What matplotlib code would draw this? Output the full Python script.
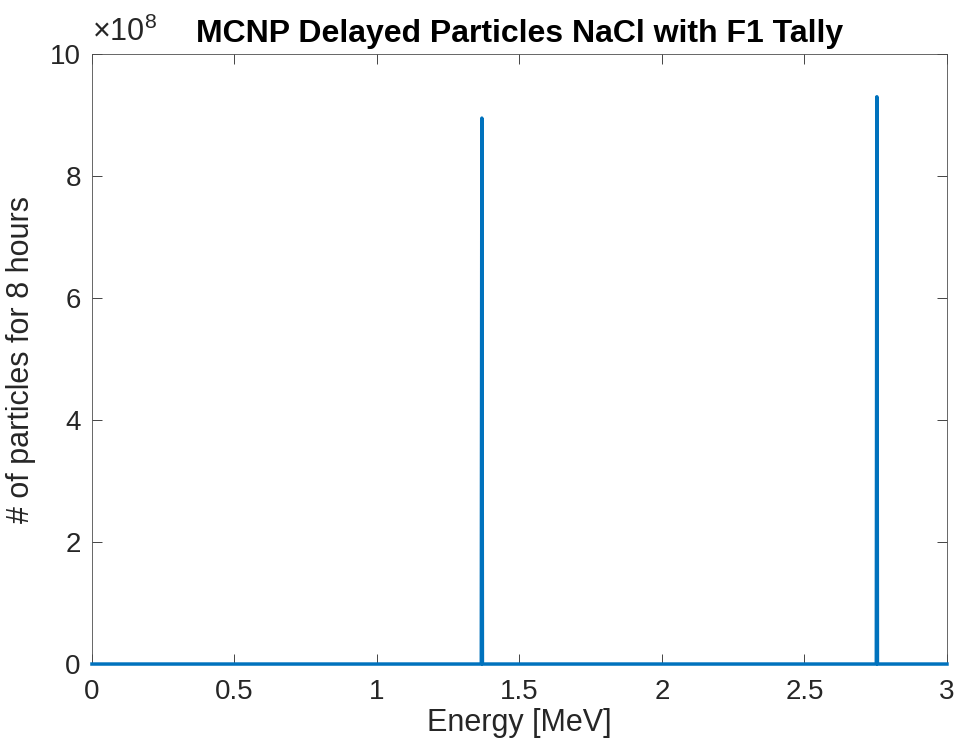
"""MCNP delayed particle spectrum for NaCl (F1 tally) -> out.png."""

import matplotlib.pyplot as plt
from matplotlib.ticker import FuncFormatter

plt.rcParams['font.family'] = ['Liberation Sans', 'DejaVu Sans']
plt.rcParams['mathtext.fontset'] = 'custom'
plt.rcParams['mathtext.rm'] = 'Liberation Sans'

# energy bins [MeV] and tallied counts (two Na-24 lines)
energy = [0.0, 1.366, 1.368, 1.370, 2.752, 2.754, 2.756, 3.0]
counts = [0.0, 0.0, 8.95e8, 0.0, 0.0, 9.3e8, 0.0, 0.0]

x_ticks = [0, 0.5, 1, 1.5, 2, 2.5, 3]
y_ticks = [0, 2e8, 4e8, 6e8, 8e8, 10e8]

LINE = '#0072BD'
AXC = '#262626'


def main():
    fig = plt.figure(figsize=(9.58, 7.51), dpi=100)
    ax = fig.add_axes([0.096, 0.1158, 0.8925, 0.8122])

    ax.plot(energy, counts, color=LINE, linewidth=2.5, clip_on=False, zorder=3)

    ax.set_xlim(0, 3)
    ax.set_ylim(0, 10e8)
    ax.set_xticks(x_ticks)
    ax.set_yticks(y_ticks)
    ax.xaxis.set_major_formatter(FuncFormatter(lambda v, p: f"{v:g}"))
    ax.yaxis.set_major_formatter(FuncFormatter(lambda v, p: f"{v / 1e8:g}"))

    ax.tick_params(direction='in', length=7, width=0.6, colors=AXC,
                   labelsize=20, top=True, right=True)
    ax.tick_params(axis='x', pad=11)
    ax.tick_params(axis='y', pad=8)
    for s in ax.spines.values():
        s.set_color('#4d4d4d')
        s.set_linewidth(0.6)

    ax.text(0.0, 1.010, r'$\times10^{8}$', transform=ax.transAxes,
            fontsize=22, color=AXC, ha='left', va='bottom')

    ax.set_title('MCNP Delayed Particles NaCl with F1 Tally',
                 fontsize=23, fontweight='bold', pad=9)
    ax.set_xlabel('Energy [MeV]', fontsize=22, color=AXC, labelpad=2)
    ax.set_ylabel('# of particles for 8 hours', fontsize=22, color=AXC, labelpad=10)

    fig.savefig('out.png', dpi=100)


if __name__ == '__main__':
    main()
